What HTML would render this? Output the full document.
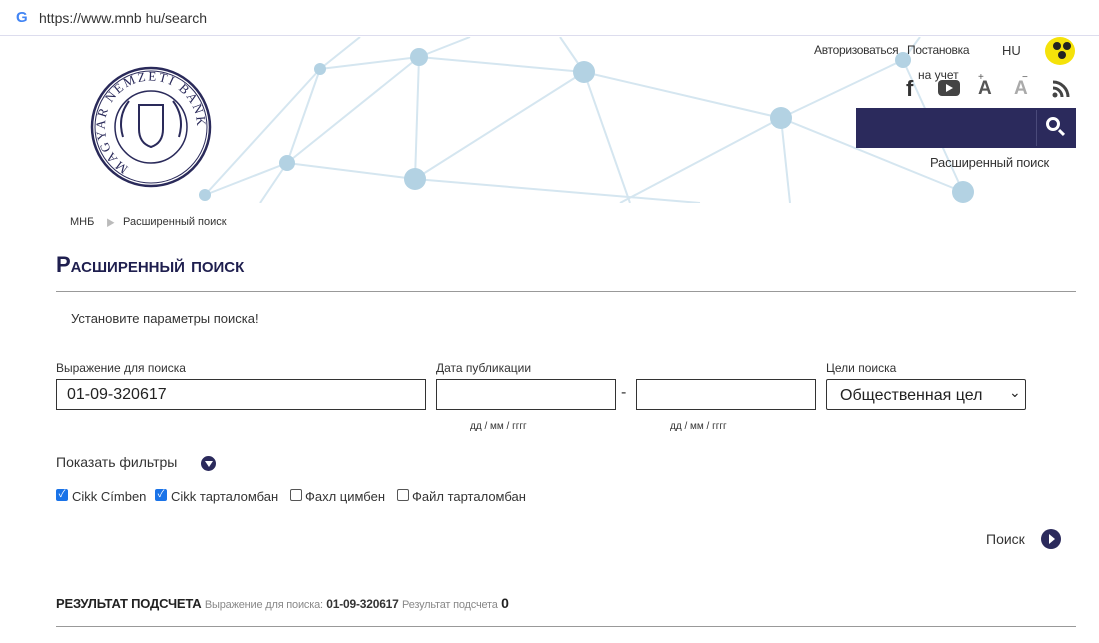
<!DOCTYPE html>
<html><head><meta charset="utf-8"><style>
*{margin:0;padding:0;box-sizing:border-box}
body{width:1099px;height:643px;overflow:hidden;background:#fff;font-family:"Liberation Sans","Noto Sans CJK SC",sans-serif;color:#222;position:relative}
.a{position:absolute;white-space:nowrap}
.inp{position:absolute;border:1px solid #333;background:#fff}
</style></head><body>
<div class="a" style="left:0;top:0;width:1099px;height:36px;background:#fff;border-bottom:1px solid #dde"></div>
<div class="a" style="left:16px;top:9px;font-weight:bold;color:#4285f4;font-size:15px">G</div>
<div class="a" style="left:39px;top:10px;font-size:14px;color:#333">https://www.mnb hu/search</div>
<svg class="a" style="left:0;top:37px" width="1099" height="166">
<g stroke="#d5e6f0" stroke-width="2" fill="none">
<line x1="205" y1="158" x2="287" y2="126"/><line x1="287" y1="126" x2="415" y2="142"/>
<line x1="287" y1="126" x2="320" y2="32"/><line x1="320" y1="32" x2="419" y2="20"/>
<line x1="419" y1="20" x2="584" y2="35"/><line x1="419" y1="20" x2="415" y2="142"/>
<line x1="287" y1="126" x2="419" y2="20"/><line x1="584" y1="35" x2="781" y2="81"/>
<line x1="415" y1="142" x2="584" y2="35"/><line x1="781" y1="81" x2="903" y2="23"/>
<line x1="781" y1="81" x2="963" y2="155"/><line x1="415" y1="142" x2="700" y2="166"/>
<line x1="584" y1="35" x2="630" y2="166"/><line x1="781" y1="81" x2="790" y2="166"/>
<line x1="781" y1="81" x2="620" y2="166"/><line x1="903" y1="23" x2="963" y2="155"/>
<line x1="205" y1="158" x2="320" y2="32"/><line x1="287" y1="126" x2="260" y2="166"/>
<line x1="584" y1="35" x2="560" y2="0"/><line x1="419" y1="20" x2="470" y2="0"/>
<line x1="320" y1="32" x2="360" y2="0"/><line x1="903" y1="23" x2="920" y2="0"/>
</g>
<g fill="#b3d2e3">
<circle cx="320" cy="32" r="6"/><circle cx="419" cy="20" r="9"/><circle cx="584" cy="35" r="11"/>
<circle cx="781" cy="81" r="11"/><circle cx="903" cy="23" r="8"/><circle cx="963" cy="155" r="11"/>
<circle cx="415" cy="142" r="11"/><circle cx="287" cy="126" r="8"/><circle cx="205" cy="158" r="6"/>
</g>
<g transform="translate(151,90)" fill="none" stroke="#2a2a5a">
<circle r="59" fill="#fff" stroke-width="2.5"/><circle r="56" stroke-width="1"/><circle r="36" stroke-width="1.5"/>
<path d="M-12,-22 h24 v24 q0,14 -12,18 q-12,-4 -12,-18z" stroke-width="2"/>
<path d="M-28,10 q-6,-20 6,-36 M28,10 q6,-20 -6,-36" stroke-width="2"/>
<path id="arc" d="M-22,40 A46,46 0 1 1 22,40" stroke="none"/>
</g>
<text font-size="13" fill="#2a2a5a" font-family="Liberation Serif" letter-spacing="2" transform="translate(151,90)"><textPath href="#arc">MAGYAR NEMZETI BANK</textPath></text>
</svg>
<div class="a" style="left:814px;top:43px;font-size:12px;color:#333;letter-spacing:-0.3px">Авторизоваться</div>
<div class="a" style="left:907px;top:43px;font-size:12px;color:#333;letter-spacing:-0.3px">Постановка</div>
<div class="a" style="left:918px;top:68px;font-size:12px;color:#333">на учет</div>
<div class="a" style="left:1002px;top:43px;font-size:13px;color:#333">HU</div>
<div class="a" style="left:1045px;top:37px;width:30px;height:28px;border-radius:50%;background:#f5e20a"></div>
<div class="a" style="left:1053px;top:42px;width:8px;height:8px;border-radius:50%;background:#222"></div>
<div class="a" style="left:1063px;top:42px;width:8px;height:8px;border-radius:50%;background:#222"></div>
<div class="a" style="left:1058px;top:51px;width:8px;height:8px;border-radius:50%;background:#222"></div>
<div class="a" style="left:906px;top:76px;font-size:22px;font-weight:bold;color:#333">f</div>
<div class="a" style="left:938px;top:80px;width:22px;height:16px;border-radius:4px;background:#444"></div>
<div class="a" style="left:946px;top:84px;width:0;height:0;border-left:7px solid #fff;border-top:4px solid transparent;border-bottom:4px solid transparent"></div>
<div class="a" style="left:978px;top:78px;font-size:19px;font-weight:bold;color:#555">A</div>
<div class="a" style="left:978px;top:72px;font-size:10px;color:#555">+</div>
<div class="a" style="left:1014px;top:78px;font-size:19px;font-weight:bold;color:#aaa">A</div>
<div class="a" style="left:1022px;top:72px;font-size:10px;color:#555">−</div>
<svg class="a" style="left:1052px;top:80px" width="18" height="18"><circle cx="3" cy="15" r="2.5" fill="#444"/><path d="M1,8 a9,9 0 0 1 9,9 M1,2 a15,15 0 0 1 15,15" stroke="#444" stroke-width="3" fill="none"/></svg>
<div class="a" style="left:856px;top:108px;width:220px;height:40px;background:#2b2a5c"></div>
<div class="a" style="left:1036px;top:110px;width:1px;height:36px;background:#4a4a7a"></div>
<div class="a" style="left:1046px;top:117px;width:14px;height:14px;border:3px solid #fff;border-radius:50%"></div>
<div class="a" style="left:1058px;top:131px;width:7px;height:3px;background:#fff;transform:rotate(45deg)"></div>
<div class="a" style="left:930px;top:155px;font-size:13px;color:#333;letter-spacing:-0.2px">Расширенный поиск</div>
<div class="a" style="left:70px;top:216px;font-size:11px;color:#333">МНБ</div>
<div class="a" style="left:106px;top:216px;font-size:9px;color:#bbb">▶</div>
<div class="a" style="left:123px;top:216px;font-size:11px;color:#333">Расширенный поиск</div>
<div class="a" style="left:56px;top:252px;font-size:22px;font-weight:bold;color:#1f1f4f;font-variant:small-caps">Расширенный поиск</div>
<div class="a" style="left:56px;top:291px;width:1020px;height:1px;background:#999"></div>
<div class="a" style="left:71px;top:311px;font-size:13px;color:#333">Установите параметры поиска!</div>
<div class="a" style="left:56px;top:361px;font-size:12px;color:#333">Выражение для поиска</div>
<div class="a" style="left:436px;top:361px;font-size:12px;color:#333">Дата публикации</div>
<div class="a" style="left:826px;top:361px;font-size:12px;color:#333">Цели поиска</div>
<div class="inp" style="left:56px;top:379px;width:370px;height:31px"></div>
<div class="a" style="left:67px;top:386px;font-size:16px;color:#222">01-09-320617</div>
<div class="inp" style="left:436px;top:379px;width:180px;height:31px"></div>
<div class="a" style="left:621px;top:384px;font-size:16px;color:#333">-</div>
<div class="inp" style="left:636px;top:379px;width:180px;height:31px"></div>
<div class="inp" style="left:826px;top:379px;width:200px;height:31px;border-radius:2px"></div>
<div class="a" style="left:840px;top:387px;font-size:16px;color:#222">Общественная цел</div>
<div class="a" style="left:1009px;top:384px;font-size:14px;color:#222">⌄</div>
<div class="a" style="left:470px;top:421px;font-size:10px;color:#333">дд / мм / гггг</div>
<div class="a" style="left:670px;top:421px;font-size:10px;color:#333">дд / мм / гггг</div>
<div class="a" style="left:56px;top:454px;font-size:14px;color:#333">Показать фильтры</div>
<div class="a" style="left:201px;top:456px;width:15px;height:15px;border-radius:50%;background:#2b2a5c"></div>
<div class="a" style="left:205px;top:461px;border-top:6px solid #fff;border-left:4px solid transparent;border-right:4px solid transparent"></div>
<div class="a" style="left:56px;top:489px;width:12px;height:12px;border-radius:2px;background:#1a73e8;color:#fff;font-size:10px;line-height:12px;text-align:center">✓</div>
<div class="a" style="left:72px;top:489px;font-size:13px;color:#333">Cikk Címben</div>
<div class="a" style="left:155px;top:489px;width:12px;height:12px;border-radius:2px;background:#1a73e8;color:#fff;font-size:10px;line-height:12px;text-align:center">✓</div>
<div class="a" style="left:171px;top:489px;font-size:13px;color:#333">Cikk тарталомбан</div>
<div class="a" style="left:290px;top:489px;width:12px;height:12px;border:1px solid #555;border-radius:2px"></div>
<div class="a" style="left:305px;top:489px;font-size:13px;color:#333">Фахл цимбен</div>
<div class="a" style="left:397px;top:489px;width:12px;height:12px;border:1px solid #555;border-radius:2px"></div>
<div class="a" style="left:412px;top:489px;font-size:13px;color:#333">Файл тарталомбан</div>
<div class="a" style="left:986px;top:531px;font-size:14px;color:#333">Поиск</div>
<div class="a" style="left:1041px;top:529px;width:20px;height:20px;border-radius:50%;background:#2b2a5c"></div>
<div class="a" style="left:1049px;top:534px;border-left:6px solid #fff;border-top:5px solid transparent;border-bottom:5px solid transparent"></div>
<div class="a" style="left:56px;top:595px;font-size:13px;color:#222;letter-spacing:-0.2px"><b>РЕЗУЛЬТАТ ПОДСЧЕТА</b> <span style="font-size:11px;color:#888">Выражение для поиска:</span> <b style="font-size:12px;color:#333">01-09-320617</b> <span style="font-size:11px;color:#888">Результат подсчета</span> <b style="font-size:14px">0</b></div>
<div class="a" style="left:56px;top:626px;width:1020px;height:1px;background:#999"></div>
</body></html>
